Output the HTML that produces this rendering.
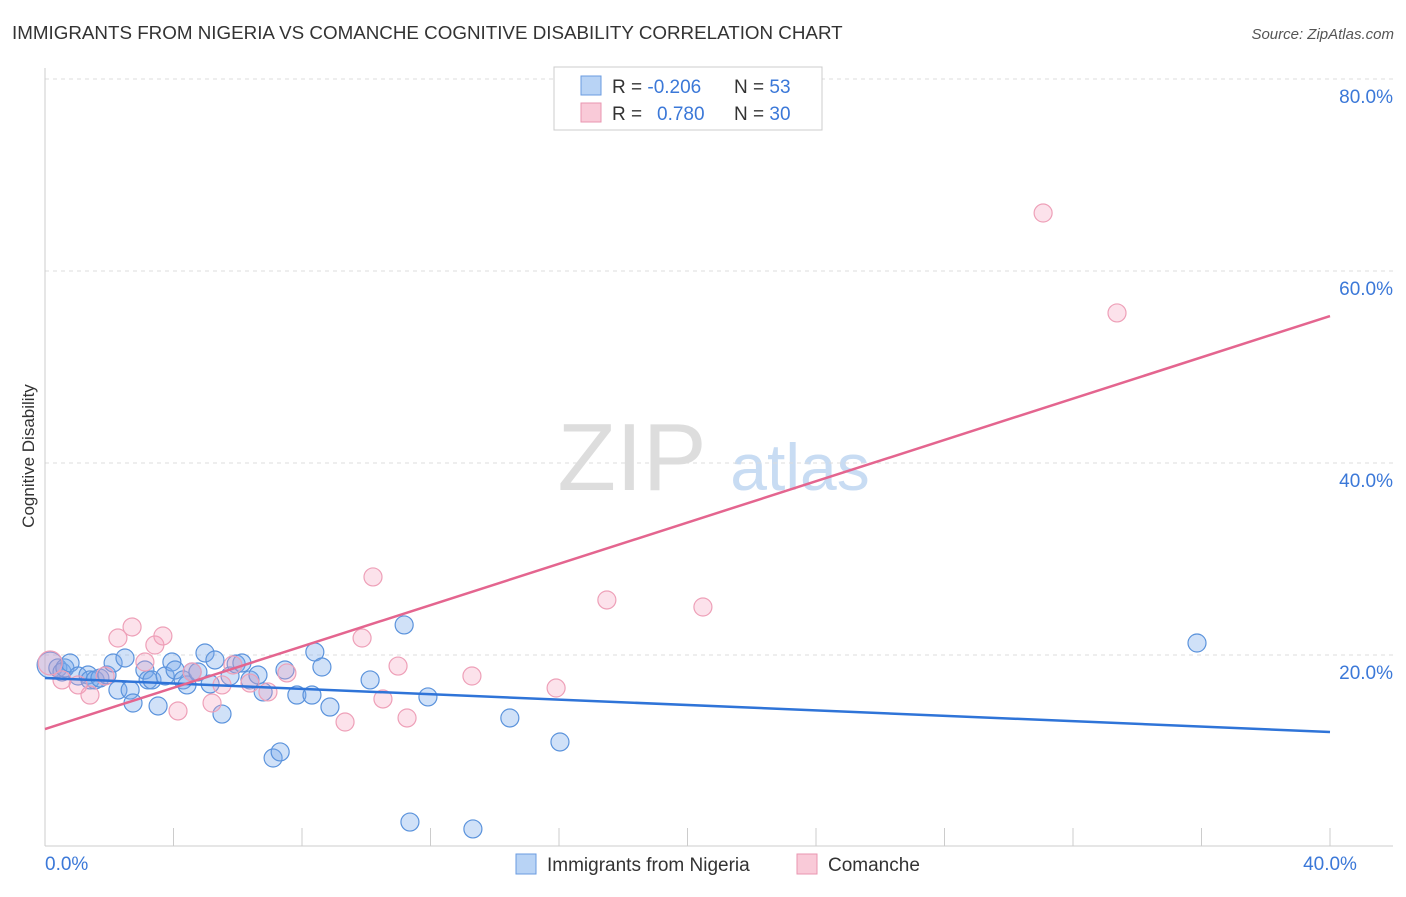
<!DOCTYPE html>
<html><head><meta charset="utf-8"><style>
body{margin:0;background:#fff;font-family:"Liberation Sans",sans-serif}
svg text{font-family:"Liberation Sans",sans-serif}
</style></head><body>
<svg id="c" width="1406" height="892" xmlns="http://www.w3.org/2000/svg">
<text x="12" y="39" font-size="18.8" fill="#333">IMMIGRANTS FROM NIGERIA VS COMANCHE COGNITIVE DISABILITY CORRELATION CHART</text>
<text x="1394" y="39" font-size="15" fill="#555" font-style="italic" text-anchor="end">Source: ZipAtlas.com</text>
<text x="632" y="490" font-size="96" fill="#ddd" font-family="Liberation Serif" text-anchor="middle">ZIP</text>
<text x="800" y="490" font-size="66" fill="#c8dcf3" text-anchor="middle">atlas</text>
<text transform="translate(34,456) rotate(-90)" font-size="17" fill="#333" text-anchor="middle">Cognitive Disability</text>
<g id="grid"></g><g id="pts"></g><g id="lines"></g>
<g>
<rect x="554" y="67" width="268" height="63" fill="#fff" stroke="#ccc"/>
<rect x="581" y="76" width="20" height="19" fill="#b8d3f5" stroke="#6a9be0"/>
<rect x="581" y="103" width="20" height="19" fill="#f9cad8" stroke="#e996b0"/>
<text x="612" y="93" font-size="19" fill="#333">R = <tspan fill="#3b78d8">-0.206</tspan><tspan x="734">N = </tspan><tspan fill="#3b78d8">53</tspan></text>
<text x="612" y="120" font-size="19" fill="#333">R = <tspan x="657" fill="#3b78d8">0.780</tspan><tspan x="734">N = </tspan><tspan fill="#3b78d8">30</tspan></text>
</g>
<g>
<rect x="516" y="854" width="20" height="20" fill="#b8d3f5" stroke="#6a9be0"/>
<text x="547" y="871" font-size="19" fill="#333">Immigrants from Nigeria</text>
<rect x="797" y="854" width="20" height="20" fill="#f9cad8" stroke="#e996b0"/>
<text x="828" y="871" font-size="19" fill="#333">Comanche</text>
</g>
</svg>
<script>
const xTicks=[0,40];
const yTicks=[20,40,60,80];
const blueX=[0.16,0.40,0.53,0.62,0.78,1.03,1.34,1.40,1.56,1.71,1.93,2.12,2.27,2.49,2.65,2.74,3.11,3.21,3.33,3.52,3.74,3.95,4.05,4.30,4.42,4.58,4.76,4.98,5.14,5.29,5.51,5.76,5.95,6.13,6.38,6.63,6.79,7.10,7.32,7.47,7.84,8.31,8.40,8.62,8.87,10.12,11.18,11.36,11.92,13.32,14.47,16.03,35.86];
const blueY=[18.96,18.65,18.23,18.65,19.17,17.81,17.92,17.40,17.40,17.60,17.92,19.17,16.35,19.69,16.35,15.00,18.44,17.40,17.40,14.69,17.81,19.27,18.44,17.40,16.88,18.23,18.23,20.21,16.98,19.48,13.85,17.81,19.06,19.17,17.40,17.92,16.15,9.27,9.90,18.44,15.83,15.83,20.31,18.75,14.58,17.40,23.13,2.60,15.63,1.88,13.44,10.94,21.25];
const pinkX=[0.16,0.53,1.03,1.40,1.87,2.27,2.71,3.11,3.42,3.67,4.14,4.58,5.20,5.51,5.85,6.38,6.94,7.53,9.34,9.87,10.21,10.52,10.99,11.27,13.29,15.91,17.49,20.48,31.07,33.37];
const pinkY=[19.17,17.40,16.88,15.83,17.81,21.77,22.92,19.27,21.04,21.98,14.17,18.23,15.00,16.88,18.96,17.08,16.15,18.13,13.02,21.77,28.13,15.42,18.85,13.44,17.81,16.56,25.73,25.00,66.04,55.63];
const blueTrend=[17.60,11.98];
const pinkTrend=[12.29,55.31];
const X=v=>45+v*32.125, Y=v=>847-v*9.6;
const NS="http://www.w3.org/2000/svg";
function mk(t,a,p){const e=document.createElementNS(NS,t);for(const k in a)e.setAttribute(k,a[k]);p.appendChild(e);return e;}
const g=document.getElementById('grid');
yTicks.forEach(t=>{
 const l=mk('line',{x1:45,x2:1393,y1:Y(t),y2:Y(t),stroke:'#ddd','stroke-dasharray':'4,4'},g);
 
 
 const tx=mk('text',{x:1393,y:Y(t)+24,'font-size':19,fill:'#3b78d8','text-anchor':'end'},g);tx.textContent=t.toFixed(1)+'%';
 
 
});
const topGrid=mk('line',{x1:45,x2:1393,y1:79,y2:79,stroke:'#ddd','stroke-dasharray':'4,4'},g);


const ax=mk('line',{x1:45,x2:1393,y1:846,y2:846,stroke:'#ccc'},g);


const ay=mk('line',{x1:45,x2:45,y1:68,y2:846,stroke:'#ccc'},g);


for(let i=0;i<=10;i++){const x=X(i*4);mk('line',{x1:x,x2:x,y1:828,y2:846,stroke:'#ccc'},g);}
xTicks.forEach(t=>{
 const tx=mk('text',{x:X(t),y:870,'font-size':19,fill:'#3b78d8','text-anchor':t==0?'start':'middle'},g);tx.textContent=t.toFixed(1)+'%';
 
 
});
const p=document.getElementById('pts');
blueX.forEach((v,i)=>{
 const c=mk('circle',{cx:X(v),cy:Y(blueY[i]),r:i==0?13:9,fill:'rgba(120,170,235,0.35)',stroke:'#5b93dc','stroke-width':1.2},p);
 
 
});
pinkX.forEach((v,i)=>{
 const c=mk('circle',{cx:X(v),cy:Y(pinkY[i]),r:i==0?12:9,fill:'rgba(245,160,190,0.3)',stroke:'#eea0b8','stroke-width':1.2},p);
 
 
});
const L=document.getElementById('lines');
const bl=mk('line',{x1:X(0),y1:Y(blueTrend[0]),x2:X(40),y2:Y(blueTrend[1]),stroke:'#2f74d8','stroke-width':2.5},L);


const pl=mk('line',{x1:X(0),y1:Y(pinkTrend[0]),x2:X(40),y2:Y(pinkTrend[1]),stroke:'#e4658f','stroke-width':2.5},L);


</script>
</body></html>
